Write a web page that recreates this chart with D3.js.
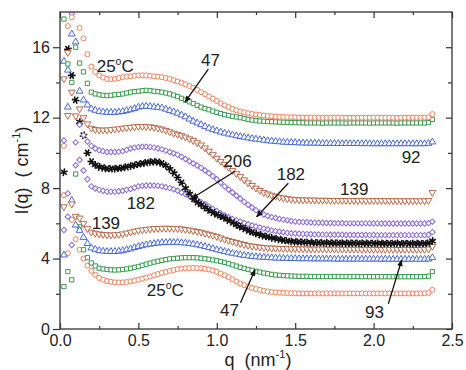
<!DOCTYPE html>
<html>
<head>
<meta charset="utf-8">
<script src="https://cdn.jsdelivr.net/npm/d3@7"></script>
<style>
  html, body { margin: 0; padding: 0; background: #fff; }
  svg text { font-family: "Liberation Sans", Arial, sans-serif; fill: #222; }
</style>
</head>
<body>
<div id="chart"></div>
<script>
// scattering vector q (nm^-1), shared by every curve
const q = [
  0.025, 0.05, 0.075, 0.1, 0.125, 0.15, 0.175, 0.2, 0.225, 0.25, 0.275, 0.3, 0.325, 0.35, 0.375,
  0.4, 0.425, 0.45, 0.475, 0.5, 0.525, 0.55, 0.575, 0.6, 0.625, 0.65, 0.675, 0.7, 0.725, 0.75,
  0.775, 0.8, 0.825, 0.85, 0.875, 0.9, 0.925, 0.95, 0.975, 1.0, 1.025, 1.05, 1.075, 1.1, 1.125,
  1.15, 1.175, 1.2, 1.225, 1.25, 1.275, 1.3, 1.325, 1.35, 1.375, 1.4, 1.425, 1.45, 1.475, 1.5,
  1.525, 1.55, 1.575, 1.6, 1.625, 1.65, 1.675, 1.7, 1.725, 1.75, 1.775, 1.8, 1.825, 1.85, 1.875,
  1.9, 1.925, 1.95, 1.975, 2.0, 2.025, 2.05, 2.075, 2.1, 2.125, 2.15, 2.175, 2.2, 2.225, 2.25,
  2.275, 2.3, 2.325, 2.35, 2.375
];

// heating curves (shifted), I(q) in cm^-1
const heat25 = [
  10.4, 17.2, 17.7, 18.6, 17.1,
  16.5, 15.6, 14.9, 14.6, 14.4, 14.28, 14.2, 14.18, 14.2, 14.25, 14.3, 14.33, 14.35, 14.38, 14.4, 14.41, 14.4, 14.38, 14.35, 14.33, 14.3, 14.25, 14.2, 14.13, 14.05, 13.98, 13.9, 13.8, 13.7, 13.58, 13.45, 13.33, 13.2, 13.08, 12.95, 12.82, 12.7, 12.6, 12.5, 12.42, 12.35, 12.3, 12.25, 12.21, 12.18, 12.15, 12.12, 12.1, 12.08, 12.06, 12.05, 12.04, 12.03, 12.02, 12.02,
  12.01, 12.01, 12.0, 12.0, 12.0, 12.0, 11.99, 12.0, 12.0, 12.0, 12.01, 12.0, 12.0, 12.0, 11.99, 12.0, 12.0, 12.0, 12.0, 12.0, 12.01, 12.0, 12.0, 12.0, 12.0, 11.99, 12.0, 12.0, 12.0, 12.0, 12.0, 12.0, 12.01, 12.03, 12.2
];
const heat47 = [
  17.6, 15.05, 14.0, 16.0, 15.1,
  14.6, 13.95, 13.45, 13.35, 13.3, 13.27, 13.25, 13.27, 13.3, 13.32, 13.35, 13.4, 13.45, 13.48, 13.5, 13.53, 13.55, 13.53, 13.5, 13.48, 13.45, 13.4, 13.35, 13.28, 13.2, 13.1, 13.0, 12.9, 12.8, 12.7, 12.6, 12.52, 12.45, 12.37, 12.3, 12.23, 12.17, 12.12, 12.08, 12.04, 12.0, 11.95, 11.9, 11.86, 11.83, 11.81, 11.8, 11.78, 11.77, 11.76, 11.75, 11.74, 11.73, 11.72, 11.72,
  11.71, 11.71, 11.7, 11.7, 11.7, 11.7, 11.69, 11.7, 11.7, 11.7, 11.7, 11.7, 11.69, 11.7, 11.7, 11.7, 11.7, 11.7, 11.69, 11.7, 11.7, 11.7, 11.7, 11.7, 11.7, 11.69, 11.7, 11.7, 11.7, 11.7, 11.7, 11.7, 11.7, 11.72, 11.9
];
const heat92 = [
  15.2, 14.7, 16.75, 16.3, 13.5,
  13.0, 12.72, 12.5, 12.42, 12.35, 12.32, 12.3, 12.3, 12.3, 12.32, 12.35, 12.4, 12.45, 12.52, 12.6, 12.63, 12.65, 12.63, 12.6, 12.58, 12.55, 12.48, 12.4, 12.33, 12.25, 12.15, 12.05, 11.92, 11.8, 11.7, 11.6, 11.5, 11.4, 11.32, 11.25, 11.18, 11.12, 11.07, 11.02, 10.97, 10.93, 10.89, 10.85, 10.81, 10.78, 10.75, 10.72, 10.69, 10.67, 10.65, 10.63, 10.61, 10.6, 10.59, 10.58,
  10.57, 10.56, 10.56, 10.55, 10.55, 10.55, 10.54, 10.54, 10.54, 10.54, 10.53, 10.53, 10.53, 10.53, 10.53, 10.53, 10.52, 10.53, 10.52, 10.52, 10.52, 10.52, 10.52, 10.52, 10.52, 10.52, 10.52, 10.52, 10.52, 10.52, 10.52, 10.52, 10.52, 10.54, 10.62
];
const heat139 = [
  14.2, 15.7, 13.45, 12.1, 12.5,
  12.0, 11.65, 11.4, 11.33, 11.3, 11.3, 11.3, 11.32, 11.35, 11.37, 11.4, 11.43, 11.45, 11.48, 11.5, 11.5, 11.5, 11.48, 11.45, 11.4, 11.35, 11.28, 11.2, 11.12, 11.05, 10.98, 10.9, 10.8, 10.7, 10.58, 10.45, 10.28, 10.1, 9.9, 9.7, 9.52, 9.35, 9.18, 9.0, 8.82, 8.65, 8.47, 8.3, 8.15, 8.0, 7.87, 7.75, 7.67, 7.6, 7.54, 7.48, 7.44, 7.4, 7.37, 7.35,
  7.34, 7.33, 7.33, 7.32, 7.32, 7.31, 7.31, 7.31, 7.3, 7.3, 7.3, 7.3, 7.3, 7.3, 7.3, 7.29, 7.3, 7.29, 7.29, 7.29, 7.29, 7.29, 7.29, 7.28, 7.29, 7.28, 7.28, 7.28, 7.28, 7.28, 7.28, 7.28, 7.28, 7.3, 7.75
];
const heat182 = [
  10.7, 7.7, 17.9, 10.6, 11.6,
  11.0, 10.65, 10.4, 10.25, 10.15, 10.1, 10.05, 10.05, 10.05, 10.07, 10.1, 10.17, 10.25, 10.3, 10.33, 10.35, 10.35, 10.33, 10.3, 10.25, 10.2, 10.13, 10.05, 9.98, 9.9, 9.78, 9.65, 9.52, 9.4, 9.28, 9.15, 9.0, 8.85, 8.68, 8.5, 8.3, 8.1, 7.92, 7.75, 7.57, 7.4, 7.22, 7.05, 6.9, 6.75, 6.62, 6.5, 6.42, 6.35, 6.3, 6.25, 6.21, 6.17, 6.13, 6.1,
  6.08, 6.07, 6.06, 6.05, 6.04, 6.03, 6.03, 6.02, 6.02, 6.01, 6.01, 6.01, 6.0, 6.0, 6.0, 6.0, 6.0, 6.0, 6.0, 5.99, 6.0, 5.99, 5.99, 5.99, 5.99, 5.99, 5.99, 5.99, 5.99, 5.99, 5.99, 5.99, 5.99, 6.01, 6.1
];
// highest temperature
const heat206 = [
  8.9, 15.9, 14.4, 13.0, 11.75,
  11.0, 10.0, 9.5, 9.32, 9.2, 9.15, 9.1, 9.1, 9.1, 9.12, 9.15, 9.2, 9.25, 9.3, 9.35, 9.4, 9.45, 9.48, 9.5, 9.47, 9.4, 9.28, 9.1, 8.87, 8.6, 8.3, 8.0, 7.7, 7.4, 7.2, 7.05, 6.9, 6.75, 6.62, 6.5, 6.4, 6.3, 6.17, 6.05, 5.92, 5.8, 5.7, 5.6, 5.5, 5.42, 5.35, 5.28, 5.23, 5.18, 5.13, 5.08, 5.04, 5.0, 4.97, 4.95,
  4.94, 4.93, 4.92, 4.91, 4.9, 4.9, 4.89, 4.89, 4.88, 4.88, 4.88, 4.87, 4.87, 4.87, 4.87, 4.87, 4.86, 4.87, 4.86, 4.86, 4.86, 4.86, 4.86, 4.86, 4.86, 4.86, 4.85, 4.86, 4.85, 4.85, 4.85, 4.85, 4.86, 4.88, 5.0
];
// cooling curves
const cool182 = [
  5.62, 6.37, 4.77, 9.3, 9.6,
  9.0, 8.5, 8.1, 7.98, 7.9, 7.85, 7.8, 7.8, 7.8, 7.82, 7.85, 7.9, 7.95, 8.02, 8.1, 8.13, 8.15, 8.15, 8.15, 8.13, 8.1, 8.05, 8.0, 7.93, 7.85, 7.75, 7.65, 7.55, 7.45, 7.33, 7.2, 7.08, 6.95, 6.82, 6.7, 6.57, 6.45, 6.35, 6.25, 6.17, 6.1, 6.02, 5.95, 5.88, 5.82, 5.76, 5.7, 5.65, 5.6, 5.56, 5.52, 5.49, 5.46, 5.44, 5.42,
  5.41, 5.4, 5.39, 5.38, 5.37, 5.37, 5.36, 5.36, 5.35, 5.35, 5.35, 5.35, 5.34, 5.34, 5.34, 5.34, 5.34, 5.34, 5.33, 5.34, 5.33, 5.33, 5.33, 5.33, 5.33, 5.33, 5.33, 5.33, 5.33, 5.33, 5.33, 5.33, 5.33, 5.35, 5.5
];
const cool139 = [
  6.94, 12.13, 7.1, 6.4, 6.3,
  6.0, 5.7, 5.5, 5.44, 5.4, 5.37, 5.35, 5.34, 5.35, 5.37, 5.4, 5.45, 5.5, 5.55, 5.6, 5.63, 5.65, 5.68, 5.7, 5.71, 5.72, 5.72, 5.72, 5.71, 5.7, 5.68, 5.65, 5.62, 5.58, 5.54, 5.5, 5.44, 5.38, 5.32, 5.25, 5.17, 5.1, 5.03, 4.97, 4.91, 4.85, 4.8, 4.75, 4.71, 4.68, 4.65, 4.63, 4.61, 4.6, 4.59, 4.58, 4.57, 4.57, 4.56, 4.56,
  4.55, 4.55, 4.55, 4.54, 4.54, 4.54, 4.54, 4.54, 4.53, 4.54, 4.53, 4.53, 4.53, 4.53, 4.53, 4.53, 4.52, 4.53, 4.52, 4.52, 4.52, 4.52, 4.52, 4.52, 4.52, 4.52, 4.52, 4.52, 4.52, 4.52, 4.52, 4.52, 4.52, 4.54, 4.7
];
const cool93 = [
  4.2, 12.6, 7.3, 5.9, 5.6,
  5.2, 4.85, 4.6, 4.52, 4.45, 4.42, 4.4, 4.4, 4.4, 4.42, 4.45, 4.5, 4.55, 4.62, 4.68, 4.73, 4.78, 4.82, 4.85, 4.88, 4.9, 4.91, 4.92, 4.92, 4.92, 4.9, 4.88, 4.85, 4.82, 4.78, 4.73, 4.68, 4.62, 4.56, 4.5, 4.45, 4.4, 4.35, 4.3, 4.26, 4.22, 4.18, 4.15, 4.12, 4.1, 4.08, 4.07, 4.05, 4.04, 4.03, 4.02, 4.01, 4.01, 4.0, 4.0,
  3.99, 3.99, 3.99, 3.98, 3.98, 3.98, 3.98, 3.98, 3.98, 3.97, 3.97, 3.97, 3.97, 3.97, 3.97, 3.97, 3.97, 3.97, 3.97, 3.97, 3.97, 3.96, 3.97, 3.96, 3.96, 3.96, 3.96, 3.96, 3.96, 3.96, 3.96, 3.96, 3.96, 3.97, 4.05
];
const cool47 = [
  2.41, 3.26, 2.79, 8.8, 5.8,
  4.5, 4.05, 3.75, 3.58, 3.45, 3.41, 3.38, 3.36, 3.35, 3.36, 3.38, 3.41, 3.45, 3.5, 3.55, 3.62, 3.68, 3.74, 3.8, 3.85, 3.9, 3.94, 3.98, 4.0, 4.02, 4.04, 4.05, 4.05, 4.05, 4.04, 4.02, 3.99, 3.96, 3.92, 3.88, 3.83, 3.78, 3.71, 3.64, 3.57, 3.5, 3.44, 3.38, 3.33, 3.28, 3.23, 3.18, 3.14, 3.1, 3.07, 3.05, 3.03, 3.02, 3.01, 3.0,
  2.99, 2.99, 2.99, 2.98, 2.98, 2.98, 2.98, 2.98, 2.98, 2.98, 2.98, 2.98, 2.98, 2.97, 2.98, 2.98, 2.97, 2.98, 2.97, 2.97, 2.97, 2.97, 2.97, 2.97, 2.97, 2.97, 2.97, 2.97, 2.97, 2.97, 2.97, 2.97, 2.98, 3.0, 3.26
];
const cool25 = [
  7.6, 4.3, 6.2, 5.1, 4.5,
  4.0, 3.6, 3.3, 3.08, 2.9, 2.8, 2.72, 2.68, 2.65, 2.64, 2.65, 2.67, 2.7, 2.75, 2.8, 2.86, 2.92, 2.98, 3.05, 3.12, 3.18, 3.24, 3.3, 3.35, 3.4, 3.43, 3.45, 3.46, 3.47, 3.46, 3.45, 3.42, 3.38, 3.32, 3.25, 3.15, 3.05, 2.94, 2.82, 2.7, 2.58, 2.49, 2.4, 2.33, 2.27, 2.22, 2.17, 2.13, 2.1, 2.08, 2.06, 2.05, 2.04, 2.03, 2.03,
  2.02, 2.02, 2.02, 2.02, 2.02, 2.02, 2.02, 2.02, 2.02, 2.02, 2.02, 2.02, 2.02, 2.02, 2.02, 2.02, 2.02, 2.02, 2.02, 2.02, 2.02, 2.02, 2.02, 2.02, 2.02, 2.02, 2.02, 2.02, 2.02, 2.02, 2.02, 2.02, 2.03, 2.05, 2.22
];

const xTicksMajor = [0, 0.5, 1.0, 1.5, 2.0, 2.5];
const xTicksMinor = [0.25, 0.75, 1.25, 1.75, 2.25];
const yTicksMajor = [0, 4, 8, 12, 16];
const yTicksMinor = [2, 6, 10, 14];

// annotation labels and arrows, in data units
const labels = [
  {parts: [["25"], ["o", true], ["C"]], q: 0.234, i: 14.59},
  {parts: [["47"]], q: 0.9, i: 14.96},
  {parts: [["92"]], q: 2.179, i: 9.41},
  {parts: [["139"]], q: 1.786, i: 7.6},
  {parts: [["206"]], q: 1.041, i: 9.21},
  {parts: [["182"]], q: 1.382, i: 8.45},
  {parts: [["182"]], q: 0.425, i: 6.84},
  {parts: [["139"]], q: 0.202, i: 5.7},
  {parts: [["25"], ["o", true], ["C"]], q: 0.553, i: 1.86},
  {parts: [["47"]], q: 1.02, i: 0.72},
  {parts: [["93"]], q: 1.945, i: 0.62}
];
const arrows = [
  {from: [0.946, 14.76], to: [0.797, 12.88]},
  {from: [1.116, 8.96], to: [0.84, 7.41]},
  {from: [1.456, 8.28], to: [1.254, 6.37]},
  {from: [1.151, 1.49], to: [1.244, 3.36]},
  {from: [2.094, 1.43], to: [2.179, 3.92]}
];

const orange = "#f0805c", green = "#3a9a50", blue = "#4a68d6", brown = "#b86a4c", purple = "#8a6ad6";

const series = [
  {values: cool25, color: orange, shape: "circle"},
  {values: cool47, color: green, shape: "square"},
  {values: cool93, color: blue, shape: "triangle"},
  {values: cool139, color: brown, shape: "triangleDown"},
  {values: cool182, color: purple, shape: "diamond"},
  {values: heat206, color: "#111", shape: "star"},
  {values: heat182, color: purple, shape: "diamond"},
  {values: heat139, color: brown, shape: "triangleDown"},
  {values: heat92, color: blue, shape: "triangle"},
  {values: heat47, color: green, shape: "square"},
  {values: heat25, color: orange, shape: "circle"}
];

const W = 466, H = 370;
const margin = {top: 12, right: 14, bottom: 41, left: 60};

const x = d3.scaleLinear().domain([0, 2.5]).range([margin.left, W - margin.right]);
const y = d3.scaleLinear().domain([0, 18]).range([H - margin.bottom, margin.top]);

const svg = d3.select("#chart").append("svg")
  .attr("width", W)
  .attr("height", H)
  .style("background", "#fff");

svg.append("defs").append("clipPath").attr("id", "plot-clip")
  .append("rect")
  .attr("x", x(0)).attr("y", y(18))
  .attr("width", x(2.5) - x(0)).attr("height", y(0) - y(18));

const marker = svg.select("defs").append("marker")
  .attr("id", "arrowhead")
  .attr("viewBox", "0 0 10 10")
  .attr("refX", 9).attr("refY", 5)
  .attr("markerWidth", 7).attr("markerHeight", 7)
  .attr("markerUnits", "userSpaceOnUse")
  .attr("orient", "auto");
marker.append("path").attr("d", "M0,1 L10,5 L0,9 Z").attr("fill", "#111");

const symbolFor = {
  circle: {type: d3.symbolCircle, size: 20, rotate: 0},
  square: {type: d3.symbolSquare, size: 18, rotate: 0},
  triangle: {type: d3.symbolTriangle, size: 20, rotate: 0},
  triangleDown: {type: d3.symbolTriangle, size: 20, rotate: 180},
  diamond: {type: d3.symbolSquare, size: 15, rotate: 45},
  star: {type: d3.symbolAsterisk || d3.symbolCross, size: 42, rotate: 0}
};

const plot = svg.append("g").attr("clip-path", "url(#plot-clip)");

series.forEach(s => {
  if (s.values.length !== q.length) console.warn("length mismatch", s.values.length);
  const sym = symbolFor[s.shape];
  const path = d3.symbol().type(sym.type).size(sym.size)();
  const isStar = s.shape === "star";
  plot.append("g")
    .selectAll("path")
    .data(s.values.map((v, k) => [q[k], v]))
    .join("path")
    .attr("d", path)
    .attr("transform", d => `translate(${x(d[0])},${y(d[1])}) rotate(${isStar ? (d[0] * 400) % 45 : sym.rotate})`)
    .attr("fill", isStar ? (d3.symbolAsterisk ? "none" : s.color) : "#fff")
    .attr("stroke", s.color)
    .attr("stroke-width", isStar ? 1.6 : 1);
});

// frame
svg.append("rect")
  .attr("x", x(0)).attr("y", y(18))
  .attr("width", x(2.5) - x(0)).attr("height", y(0) - y(18))
  .attr("fill", "none").attr("stroke", "#333").attr("stroke-width", 1.3);

function styleAxis(g) {
  g.select(".domain").remove();
  g.selectAll(".tick line").attr("stroke", "#333").attr("stroke-width", 1.2);
  g.selectAll(".tick text").attr("font-size", 16).attr("fill", "#222")
    .attr("font-family", "Liberation Sans, Arial, sans-serif");
}

// bottom
svg.append("g").attr("transform", `translate(0,${y(0)})`)
  .call(d3.axisBottom(x).tickValues(xTicksMajor).tickSize(-6).tickPadding(6).tickFormat(d3.format(".1f")))
  .call(styleAxis);
svg.append("g").attr("transform", `translate(0,${y(0)})`)
  .call(d3.axisBottom(x).tickValues(xTicksMinor).tickSize(-3).tickFormat(""))
  .call(styleAxis);
// top
svg.append("g").attr("transform", `translate(0,${y(18)})`)
  .call(d3.axisTop(x).tickValues(xTicksMajor).tickSize(-6).tickFormat(""))
  .call(styleAxis);
svg.append("g").attr("transform", `translate(0,${y(18)})`)
  .call(d3.axisTop(x).tickValues(xTicksMinor).tickSize(-3).tickFormat(""))
  .call(styleAxis);
// left
svg.append("g").attr("transform", `translate(${x(0)},0)`)
  .call(d3.axisLeft(y).tickValues(yTicksMajor).tickSize(7).tickPadding(3).tickFormat(d3.format("d")))
  .call(styleAxis);
svg.append("g").attr("transform", `translate(${x(0)},0)`)
  .call(d3.axisLeft(y).tickValues(yTicksMinor).tickSize(4).tickFormat(""))
  .call(styleAxis);
// right
svg.append("g").attr("transform", `translate(${x(2.5)},0)`)
  .call(d3.axisRight(y).tickValues(yTicksMajor).tickSize(-6).tickFormat(""))
  .call(styleAxis);
svg.append("g").attr("transform", `translate(${x(2.5)},0)`)
  .call(d3.axisRight(y).tickValues(yTicksMinor).tickSize(-4).tickFormat(""))
  .call(styleAxis);

function writeParts(text, parts, size) {
  parts.forEach(([t, sup], k) => {
    const prevSup = k > 0 && parts[k - 1][1];
    text.append("tspan")
      .attr("font-size", sup ? size * 0.62 : size)
      .attr("dy", sup ? -size * 0.42 : (prevSup ? size * 0.42 : 0))
      .text(t);
  });
}

// axis titles
const xTitle = svg.append("text")
  .attr("x", 258).attr("y", H - 4)
  .attr("text-anchor", "middle")
  .attr("font-size", 18)
  .attr("xml:space", "preserve");
writeParts(xTitle, [["q  (nm"], ["-1", true], [")"]], 18);

const yTitle = svg.append("text")
  .attr("transform", `translate(28,${(y(0) + y(18)) / 2}) rotate(-90)`)
  .attr("text-anchor", "middle")
  .attr("font-size", 18)
  .attr("xml:space", "preserve");
writeParts(yTitle, [["I(q)  ( cm"], ["-1", true], [")"]], 18);

// annotations
labels.forEach(l => {
  const t = svg.append("text").attr("x", x(l.q)).attr("y", y(l.i)).attr("font-size", 17);
  writeParts(t, l.parts.map(p => [p[0], !!p[1]]), 17);
});
arrows.forEach(a => {
  svg.append("line")
    .attr("x1", x(a.from[0])).attr("y1", y(a.from[1]))
    .attr("x2", x(a.to[0])).attr("y2", y(a.to[1]))
    .attr("stroke", "#111").attr("stroke-width", 1.3)
    .attr("marker-end", "url(#arrowhead)");
});
</script>
</body>
</html>
